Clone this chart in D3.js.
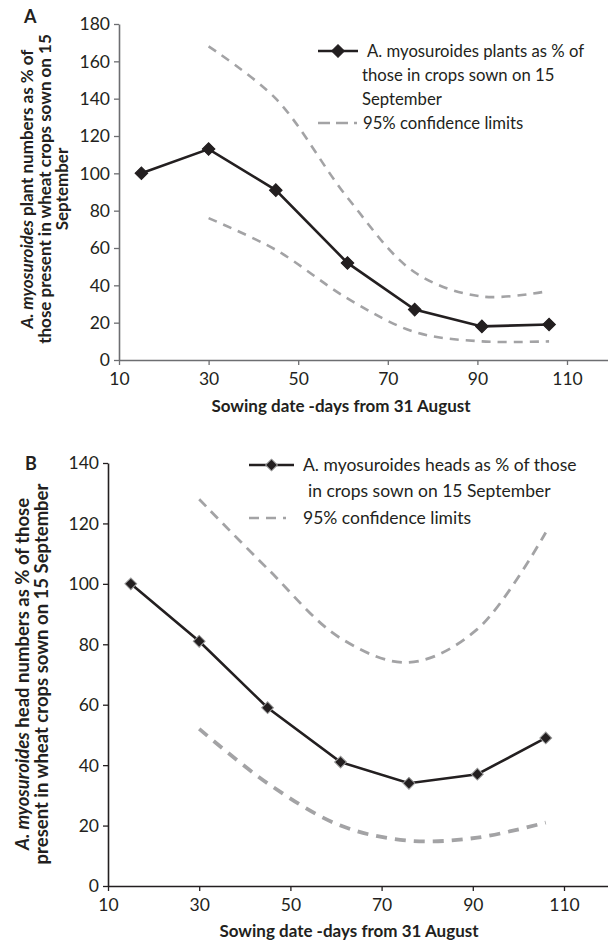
<!DOCTYPE html>
<html>
<head>
<meta charset="utf-8">
<script src="https://cdn.jsdelivr.net/npm/d3@7"></script>
<style>
  body { margin: 0; background: #fff; }
  svg { display: block; font-family: Lato, "Open Sans", sans-serif; }
</style>
</head>
<body>
<svg id="chart" width="608" height="949"></svg>
<script>
// sowing dates (days from 31 August)
const days = [15, 30, 45, 61, 76, 91, 106];
const ciDays = [30, 45, 61, 76, 91, 106];
const xTicks = [10, 30, 50, 70, 90, 110];

// panel A - plants
const plantsPct = [100, 113, 91, 52, 27, 18, 19];
const plantsUpper = [168, 140, 87, 47, 34, 37];
const plantsLower = [76, 59, 33, 15, 10, 10];
const yTicksA = [0, 20, 40, 60, 80, 100, 120, 140, 160, 180];

// panel B - heads
const headsPct = [100, 81, 59, 41, 34, 37, 49];
const headsUpper = [128, 105, 82, 74, 85, 117];
const headsLower = [52, 34, 20, 15, 16, 21];
const yTicksB = [0, 20, 40, 60, 80, 100, 120, 140];

const svg = d3.select("#chart");
const ink = "#231f20";
const ciColor = "#a3a3a5";

function drawPanel(opt) {
  const x = d3.scaleLinear().domain([10, 120]).range([opt.x0, opt.x0 + 110 * opt.kx]);
  const y = d3.scaleLinear().domain([0, opt.yMax]).range([opt.y0, opt.yTop]);

  const g = svg.append("g");

  // axes
  const xAxis = g.append("g")
    .attr("transform", `translate(0,${opt.y0})`)
    .call(d3.axisBottom(x).tickValues(xTicks).tickSize(5).tickSizeOuter(0));
  const yAxis = g.append("g")
    .attr("transform", `translate(${opt.x0},0)`)
    .call(d3.axisLeft(y).tickValues(opt.yTicks).tickSize(5).tickSizeOuter(0));

  [xAxis, yAxis].forEach((a) => {
    a.select(".domain").attr("stroke", opt.axisColor).attr("stroke-width", 1.6);
    a.selectAll(".tick line").attr("stroke", opt.axisColor).attr("stroke-width", 1.3);
    a.selectAll(".tick text")
      .attr("fill", ink)
      .attr("font-family", "Lato, sans-serif")
      .attr("font-size", opt.tickFont);
  });
  xAxis.selectAll(".tick text").attr("dy", "0.95em");
  yAxis.selectAll(".tick text").attr("dx", "-1px").attr("dy", "0.34em");

  // confidence limits
  const ciLine = d3.line()
    .x((d) => x(d[0]))
    .y((d) => y(d[1]))
    .curve(d3.curveCatmullRom.alpha(0.5));

  g.append("path")
    .attr("d", ciLine(ciDays.map((d, i) => [d, opt.upper[i]])))
    .attr("fill", "none")
    .attr("stroke", ciColor)
    .attr("stroke-width", opt.ciWidthUp)
    .attr("stroke-dasharray", opt.dashUp);

  g.append("path")
    .attr("d", ciLine(ciDays.map((d, i) => [d, opt.lower[i]])))
    .attr("fill", "none")
    .attr("stroke", ciColor)
    .attr("stroke-width", opt.ciWidthLow)
    .attr("stroke-dasharray", opt.dashLow);

  // main series
  const mainLine = d3.line().x((d) => x(d[0])).y((d) => y(d[1]));
  const pts = days.map((d, i) => [d, opt.values[i]]);

  g.append("path")
    .attr("d", mainLine(pts))
    .attr("fill", "none")
    .attr("stroke", ink)
    .attr("stroke-width", 2.6);

  const diamond = d3.symbol().type(d3.symbolSquare).size(opt.markSize);
  g.selectAll(".mark")
    .data(pts)
    .join("path")
    .attr("d", diamond)
    .attr("transform", (d) => `translate(${x(d[0])},${y(d[1])}) rotate(45)`)
    .attr("fill", ink)
    .attr("stroke", opt.markStroke)
    .attr("stroke-width", 1);

  // x title
  g.append("text")
    .attr("x", opt.xTitleX)
    .attr("y", opt.xTitleY)
    .attr("text-anchor", "middle")
    .attr("font-size", "17px")
    .attr("font-weight", "bold")
    .attr("fill", ink)
    .text("Sowing date -days from 31 August");

  // y title (rotated lines)
  opt.yTitle.forEach((line, i) => {
    const t = g.append("text")
      .attr("transform", `translate(${opt.yTitleX[i]},${opt.yTitleMid}) rotate(-90)`)
      .attr("text-anchor", "middle")
      .attr("font-size", opt.yTitleFont)
      .attr("font-weight", "bold")
      .attr("fill", ink);
    line.forEach((part) => {
      t.append("tspan")
        .attr("font-style", part.italic ? "italic" : "normal")
        .text(part.text);
    });
  });

  // panel letter
  g.append("text")
    .attr("x", opt.letterX)
    .attr("y", opt.letterY)
    .attr("font-size", "18px")
    .attr("font-weight", "bold")
    .attr("fill", ink)
    .text(opt.letter);

  // legend
  const lg = g.append("g");
  const lx = opt.legX, lw = opt.legW;
  lg.append("line")
    .attr("x1", lx).attr("x2", lx + lw)
    .attr("y1", opt.legY[0]).attr("y2", opt.legY[0])
    .attr("stroke", ink).attr("stroke-width", 2.6);
  lg.append("path")
    .attr("d", diamond)
    .attr("transform", `translate(${lx + lw / 2},${opt.legY[0]}) rotate(45)`)
    .attr("fill", ink)
    .attr("stroke", opt.markStroke);
  lg.append("line")
    .attr("x1", lx).attr("x2", lx + lw)
    .attr("y1", opt.legDashY).attr("y2", opt.legDashY)
    .attr("stroke", ciColor).attr("stroke-width", 2.6)
    .attr("stroke-dasharray", opt.legDash);

  opt.legText.forEach((txt, i) => {
    lg.append("text")
      .attr("x", opt.legTextX[i])
      .attr("y", opt.legY[i])
      .attr("dy", "0.35em")
      .attr("font-size", opt.legFont)
      .attr("fill", ink)
      .text(txt);
  });
}

drawPanel({
  letter: "A", letterX: 24, letterY: 23,
  x0: 119, kx: 4.48, y0: 360, yTop: 24, yMax: 180, yTicks: yTicksA,
  axisColor: "#6d6e71", tickFont: "17.5px",
  values: plantsPct, upper: plantsUpper, lower: plantsLower,
  ciWidthUp: 2.6, ciWidthLow: 2.6, dashUp: "9,7", dashLow: "9,7",
  markSize: 80, markStroke: ink,
  xTitleX: 341, xTitleY: 412,
  yTitle: [
    [{ text: "A. myosuroides", italic: true }, { text: " plant numbers as % of" }],
    [{ text: "those present in wheat crops sown on 15" }],
    [{ text: "September" }]
  ],
  yTitleX: [33, 50.5, 68], yTitleMid: 189, yTitleFont: "17px",
  legX: 318, legW: 40,
  legY: [51, 75, 99, 123], legDashY: 123, legDash: "12,6,12,6,3",
  legTextX: [367, 362, 362, 363],
  legText: [
    "A. myosuroides plants as % of",
    "those in crops sown on 15",
    "September",
    "95% confidence limits"
  ],
  legFont: "16.7px"
});

drawPanel({
  letter: "B", letterX: 25, letterY: 470,
  x0: 108, kx: 4.56, y0: 886, yTop: 463, yMax: 140, yTicks: yTicksB,
  axisColor: "#231f20", tickFont: "17.5px",
  values: headsPct, upper: headsUpper, lower: headsLower,
  ciWidthUp: 2.8, ciWidthLow: 3.8, dashUp: "10,7", dashLow: "11,8",
  markSize: 70, markStroke: "#9a9a9a",
  xTitleX: 349, xTitleY: 937,
  yTitle: [
    [{ text: "A. myosuroides", italic: true }, { text: " head numbers as % of those" }],
    [{ text: "present in wheat crops sown on 15 September" }]
  ],
  yTitleX: [29, 48], yTitleMid: 674, yTitleFont: "18.5px",
  legX: 249, legW: 45,
  legY: [465, 491, 518], legDashY: 518, legDash: "10,7,10,7,3",
  legTextX: [303, 308, 303],
  legText: [
    "A. myosuroides heads as % of those",
    " in crops sown on 15 September",
    "95% confidence limits"
  ],
  legFont: "17.5px"
});
</script>
</body>
</html>
